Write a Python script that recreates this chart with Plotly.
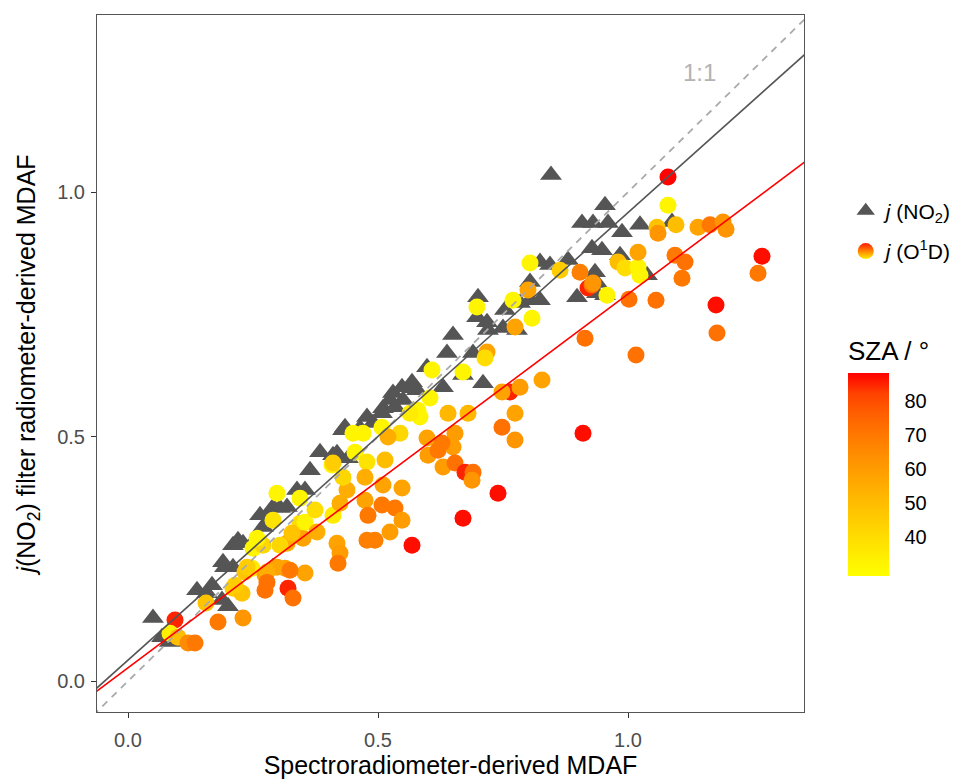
import plotly.graph_objects as go

# ---------------- data ----------------
tri_x = [0.050, 0.068, 0.084, 0.138, 0.158, 0.188, 0.168, 0.200, 0.194, 0.210,
         0.210, 0.220, 0.230, 0.258, 0.270, 0.264, 0.278, 0.290, 0.318, 0.304,
         0.190, 0.290, 0.280, 0.338, 0.354, 0.364, 0.384, 0.410, 0.440, 0.418,
         0.430, 0.434, 0.464, 0.490, 0.478, 0.508, 0.510, 0.534, 0.524, 0.530,
         0.548, 0.570, 0.568, 0.578, 0.550, 0.598, 0.630, 0.638, 0.650, 0.670,
         0.710, 0.700, 0.698, 0.720, 0.754, 0.778, 0.804, 0.718, 0.750, 0.784,
         0.824, 0.804, 0.824, 0.844, 0.880, 0.898, 0.954, 0.934, 0.928, 0.948,
         0.984, 1.030, 0.908, 0.930, 0.960, 0.988, 1.024, 0.954, 0.846, 0.938,
         0.938, 1.038, 1.088, 0.690]
tri_y = [0.129, 0.090, 0.080, 0.186, 0.180, 0.166, 0.196, 0.153, 0.233, 0.233,
         0.278, 0.288, 0.282, 0.294, 0.315, 0.339, 0.325, 0.356, 0.356, 0.354,
         0.243, 0.233, 0.339, 0.391, 0.391, 0.431, 0.468, 0.462, 0.456, 0.466,
         0.513, 0.519, 0.517, 0.528, 0.540, 0.548, 0.558, 0.560, 0.575, 0.589,
         0.601, 0.599, 0.611, 0.595, 0.575, 0.642, 0.601, 0.671, 0.708, 0.626,
         0.609, 0.785, 0.744, 0.718, 0.759, 0.718, 0.779, 0.734, 0.722, 0.773,
         0.779, 0.816, 0.857, 0.851, 0.861, 0.785, 0.789, 0.836, 0.885, 0.881,
         0.871, 0.834, 0.937, 0.937, 0.937, 0.918, 0.933, 0.973, 1.035, 0.814,
         0.793, 0.830, 0.939, 0.671]

circ_x = [0.094, 0.084, 0.100, 0.120, 0.134, 0.180, 0.230, 0.156, 0.210, 0.228,
          0.234, 0.248, 0.274, 0.320, 0.330, 0.274, 0.298, 0.314, 0.354, 0.250,
          0.270, 0.258, 0.290, 0.344, 0.298, 0.344, 0.318, 0.350, 0.354, 0.374,
          0.304, 0.328, 0.378, 0.410, 0.424, 0.438, 0.408, 0.430, 0.454, 0.470,
          0.450, 0.508, 0.544, 0.520, 0.584, 0.478, 0.474, 0.514, 0.510, 0.548,
          0.474, 0.480, 0.508, 0.534, 0.548, 0.478, 0.494, 0.524, 0.568, 0.418,
          0.424, 0.420, 0.238, 0.278, 0.324, 0.278, 0.214, 0.598, 0.600, 0.608,
          0.670, 0.604, 0.580, 0.564, 0.410, 0.640, 0.680, 0.620, 0.654, 0.650,
          0.630, 0.654, 0.674, 0.690, 0.688, 0.748, 0.774, 0.774, 0.764, 0.748,
          0.784, 0.828, 0.910, 0.740, 0.670, 0.698, 0.770, 0.800, 0.808, 0.774,
          0.718, 0.714, 0.804, 0.864, 0.904, 0.920, 0.928, 0.958, 0.980, 0.994,
          1.020, 1.024, 1.020, 1.058, 1.060, 1.080, 1.080, 1.096, 1.140, 1.164,
          1.190, 1.196, 1.094, 1.114, 1.108, 1.002, 1.056, 1.268, 1.260, 1.176,
          1.178, 1.016, 0.914, 0.930, 0.628]
circ_y = [0.125, 0.098, 0.090, 0.078, 0.078, 0.121, 0.129, 0.160, 0.190, 0.180,
          0.223, 0.231, 0.186, 0.190, 0.170, 0.217, 0.233, 0.231, 0.221, 0.272,
          0.278, 0.292, 0.329, 0.323, 0.384, 0.374, 0.282, 0.292, 0.325, 0.350,
          0.278, 0.303, 0.305, 0.339, 0.364, 0.391, 0.442, 0.417, 0.468, 0.507,
          0.507, 0.519, 0.507, 0.499, 0.540, 0.448, 0.417, 0.452, 0.401, 0.395,
          0.370, 0.339, 0.360, 0.354, 0.329, 0.288, 0.288, 0.305, 0.278, 0.282,
          0.262, 0.241, 0.233, 0.223, 0.227, 0.202, 0.196, 0.497, 0.462, 0.636,
          0.632, 0.579, 0.554, 0.548, 0.446, 0.548, 0.548, 0.472, 0.507, 0.479,
          0.438, 0.446, 0.427, 0.427, 0.411, 0.519, 0.548, 0.493, 0.591, 0.591,
          0.601, 0.616, 0.507, 0.384, 0.333, 0.765, 0.779, 0.800, 0.742, 0.724,
          0.673, 0.661, 0.855, 0.840, 0.836, 0.804, 0.810, 0.789, 0.857, 0.845,
          0.847, 0.830, 0.877, 0.928, 0.916, 0.973, 1.031, 0.933, 0.928, 0.933,
          0.939, 0.924, 0.871, 0.857, 0.824, 0.781, 0.779, 0.869, 0.834, 0.769,
          0.712, 0.667, 0.701, 0.814, 0.487]
circ_sza = [85, 33, 50, 65, 70, 70, 62, 48, 45, 48,
            48, 35, 72, 85, 72, 58, 58, 58, 58, 32,
            42, 32, 38, 40, 32, 32, 55, 58, 32, 40,
            42, 48, 55, 35, 55, 55, 32, 42, 32, 32,
            32, 32, 42, 55, 32, 38, 55, 50, 58, 58,
            58, 70, 70, 70, 60, 68, 68, 60, 87, 58,
            60, 70, 45, 55, 70, 72, 45, 58, 60, 32,
            32, 32, 32, 35, 45, 52, 52, 70, 60, 60,
            60, 72, 85, 72, 62, 72, 58, 62, 85, 58,
            60, 58, 87, 87, 87, 32, 32, 58, 32, 58,
            58, 40, 32, 45, 68, 85, 72, 32, 50, 40,
            32, 32, 58, 48, 62, 32, 88, 50, 58, 70,
            62, 62, 70, 72, 70, 72, 72, 87, 70, 87,
            72, 72, 72, 62, 70]

# fitted lines (slope, intercept)
fit_no2 = (0.915, 0.043)
fit_o1d = (0.764, 0.0275)
line_x = [-0.2, 1.5]

SZA_MIN, SZA_MAX = 28.7, 88.3
sza_ticks = [40, 50, 60, 70, 80]

# ------------- colour scale (Lab interpolation yellow -> red, like ggplot) -------------
def _srgb_to_lin(c):
    return c / 12.92 if c <= 0.04045 else ((c + 0.055) / 1.055) ** 2.4

def _lin_to_srgb(c):
    c = max(0.0, min(1.0, c))
    return 12.92 * c if c <= 0.0031308 else 1.055 * c ** (1 / 2.4) - 0.055

def _rgb_to_lab(rgb):
    r, g, b = [_srgb_to_lin(v / 255) for v in rgb]
    X = 0.4124 * r + 0.3576 * g + 0.1805 * b
    Y = 0.2126 * r + 0.7152 * g + 0.0722 * b
    Z = 0.0193 * r + 0.1192 * g + 0.9505 * b
    Xn, Yn, Zn = 0.95047, 1.0, 1.08883
    def f(t):
        return t ** (1 / 3) if t > 0.008856 else 7.787 * t + 16 / 116
    fx, fy, fz = f(X / Xn), f(Y / Yn), f(Z / Zn)
    return (116 * fy - 16, 500 * (fx - fy), 200 * (fy - fz))

def _lab_to_rgb(lab):
    L, a, b = lab
    fy = (L + 16) / 116
    fx = fy + a / 500
    fz = fy - b / 200
    def finv(t):
        return t ** 3 if t ** 3 > 0.008856 else (t - 16 / 116) / 7.787
    Xn, Yn, Zn = 0.95047, 1.0, 1.08883
    X, Y, Z = Xn * finv(fx), Yn * finv(fy), Zn * finv(fz)
    r = 3.2406 * X - 1.5372 * Y - 0.4986 * Z
    g = -0.9689 * X + 1.8758 * Y + 0.0415 * Z
    bb = 0.0557 * X - 0.2040 * Y + 1.0570 * Z
    return tuple(int(round(255 * _lin_to_srgb(v))) for v in (r, g, bb))

lab_lo = _rgb_to_lab((255, 255, 0))
lab_hi = _rgb_to_lab((255, 0, 0))
colorscale = []
for i in range(11):
    t = i / 10
    lab = tuple(lab_lo[k] + (lab_hi[k] - lab_lo[k]) * t for k in range(3))
    r, g, b = _lab_to_rgb(lab)
    colorscale.append([t, f"rgb({r},{g},{b})"])

FONT = "Liberation Sans, Arial, Helvetica, sans-serif"

fig = go.Figure()

# triangles j(NO2)
fig.add_trace(go.Scatter(
    x=tri_x, y=tri_y, mode="markers", showlegend=False,
    marker=dict(symbol="triangle-up", size=19, color="#555555"),
    hoverinfo="skip"))

# circles j(O1D)
fig.add_trace(go.Scatter(
    x=circ_x, y=circ_y, mode="markers", showlegend=False,
    marker=dict(symbol="circle", size=17, color=circ_sza, coloraxis="coloraxis"),
    hoverinfo="skip"))

# lines
fig.add_trace(go.Scatter(x=line_x, y=line_x, mode="lines", showlegend=False,
                         line=dict(color="#aaaaaa", width=1.8, dash="7px,6px"),
                         hoverinfo="skip"))
fig.add_trace(go.Scatter(x=line_x, y=[fit_no2[0] * v + fit_no2[1] for v in line_x],
                         mode="lines", showlegend=False,
                         line=dict(color="#555555", width=1.6), hoverinfo="skip"))
fig.add_trace(go.Scatter(x=line_x, y=[fit_o1d[0] * v + fit_o1d[1] for v in line_x],
                         mode="lines", showlegend=False,
                         line=dict(color="#ff0000", width=1.6), hoverinfo="skip"))

# legend entries
fig.add_trace(go.Scatter(x=[None], y=[None], mode="markers", name="<i>j</i> (NO<sub>2</sub>)",
                         legendgroup="a",
                         marker=dict(symbol="triangle-up", size=19, color="#555555")))
fig.add_trace(go.Scatter(x=[None], y=[None], mode="markers", name="<i>j</i> (O<sup>1</sup>D)",
                         legendgroup="b",
                         marker=dict(symbol="circle", size=16, color="#ff1a00",
                                     gradient=dict(type="vertical", color="#ffee00"))))

fig.add_annotation(x=1.142, y=1.244, text="1:1", showarrow=False,
                   font=dict(size=24, color="#b3b3b3", family=FONT))

axis_common = dict(showgrid=False, zeroline=False, showline=True, mirror=True,
                   linecolor="#555555", linewidth=1, ticks="outside", ticklen=5,
                   tickcolor="#333333", tickwidth=1, automargin=False,
                   tickfont=dict(size=20, color="#4d4d4d", family=FONT))

fig.update_layout(
    width=975, height=781,
    margin=dict(l=89, r=179, t=7, b=77),
    plot_bgcolor="white", paper_bgcolor="white",
    font=dict(family=FONT, color="black"),
    xaxis=dict(range=[-0.062, 1.352], tickvals=[0, 0.5, 1.0],
               ticktext=["0.0", "0.5", "1.0"], ticklabelstandoff=5,
               title=dict(text="Spectroradiometer-derived MDAF",
                          font=dict(size=25, color="black"), standoff=4),
               **axis_common),
    yaxis=dict(range=[-0.063, 1.362], tickvals=[0, 0.5, 1.0],
               ticktext=["0.0", "0.5", "1.0"], ticklabelstandoff=2,
               title=dict(text="<i>j</i>(NO<sub>2</sub>) filter radiometer-derived MDAF",
                          font=dict(size=25, color="black"), standoff=14),
               **axis_common),
    coloraxis=dict(
        colorscale=colorscale, cmin=SZA_MIN, cmax=SZA_MAX,
        colorbar=dict(
            title=dict(text="SZA / °", side="top", font=dict(size=26, color="black")),
            thickness=41, thicknessmode="pixels",
            len=258, lenmode="pixels",
            x=1.048, xanchor="left", y=0.181, yanchor="bottom",
            tickvals=sza_ticks, ticks="outside", tickcolor="white", ticklen=12,
            tickfont=dict(size=20, color="black"), outlinewidth=0)),
    legend=dict(x=1.059, y=0.748, xanchor="left", yanchor="top",
                font=dict(size=21, color="black"), traceorder="grouped",
                tracegroupgap=10, itemsizing="trace", bgcolor="rgba(0,0,0,0)"),
)

fig.write_html("out.html")
